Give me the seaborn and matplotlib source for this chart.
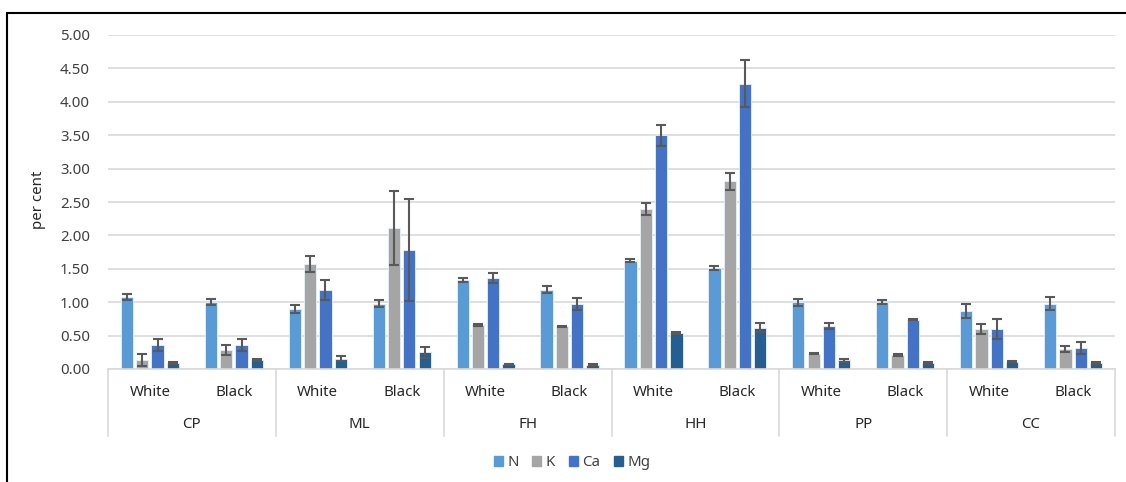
import numpy as np
import pandas as pd
import matplotlib
matplotlib.use("Agg")
import matplotlib.pyplot as plt
from matplotlib.lines import Line2D
from matplotlib.transforms import blended_transform_factory
import seaborn as sns

# ---- data ----
sites = ["CP", "ML", "FH", "HH", "PP", "CC"]
colours_sub = ["White", "Black"]
nutrients = ["N", "K", "Ca", "Mg"]

N_vals  = [1.08, 1.00, 0.90, 0.98, 1.33, 1.19, 1.62, 1.51, 1.00, 1.00, 0.87, 0.98]
K_vals  = [0.14, 0.29, 1.57, 2.11, 0.66, 0.64, 2.39, 2.81, 0.23, 0.21, 0.60, 0.30]
Ca_vals = [0.36, 0.36, 1.18, 1.78, 1.36, 0.97, 3.50, 4.27, 0.65, 0.74, 0.60, 0.32]
Mg_vals = [0.09, 0.13, 0.155, 0.25, 0.07, 0.06, 0.54, 0.62, 0.13, 0.09, 0.11, 0.09]

N_err  = [0.05, 0.045, 0.055, 0.055, 0.03, 0.05, 0.025, 0.025, 0.055, 0.03, 0.10, 0.095]
K_err  = [0.09, 0.075, 0.12, 0.555, 0.01, 0.01, 0.09, 0.125, 0.01, 0.01, 0.08, 0.045]
Ca_err = [0.085, 0.085, 0.15, 0.76, 0.08, 0.09, 0.155, 0.355, 0.045, 0.01, 0.15, 0.09]
Mg_err = [0.01, 0.015, 0.04, 0.085, 0.01, 0.01, 0.02, 0.065, 0.025, 0.01, 0.01, 0.01]

values = {"N": N_vals, "K": K_vals, "Ca": Ca_vals, "Mg": Mg_vals}
errors = {"N": N_err, "K": K_err, "Ca": Ca_err, "Mg": Mg_err}
palette = {"N": "#5B9BD5", "K": "#A5A5A5", "Ca": "#4472C4", "Mg": "#255E91"}

cats = [f"{s}-{c}" for s in sites for c in colours_sub]
rows = []
for nut in nutrients:
    for cat, v in zip(cats, values[nut]):
        rows.append({"cat": cat, "nutrient": nut, "value": v})
df = pd.DataFrame(rows)

# ---- figure ----
sns.set_theme(style="white")
plt.rcParams["font.family"] = ["Noto Sans", "DejaVu Sans"]

W, H = 1126, 482
fig = plt.figure(figsize=(W / 100, H / 100), dpi=100)
L, R, T, B = 108, 1115, 35, 369
ax = fig.add_axes([L / W, 1 - B / H, (R - L) / W, (B - T) / H])

sns.barplot(data=df, x="cat", y="value", hue="nutrient", order=cats,
            hue_order=nutrients, palette=palette, width=0.73, gap=0.2,
            errorbar=None, ax=ax, edgecolor="#EAF1FA", linewidth=0.6,
            saturation=1)

for cont, nut in zip(ax.containers, nutrients):
    xs = [p.get_x() + p.get_width() / 2 for p in cont]
    hs = [p.get_height() for p in cont]
    ax.errorbar(xs, hs, yerr=errors[nut], fmt="none", ecolor="#595959",
                elinewidth=1.5, capsize=3.3, capthick=1.5, zorder=5)

ax.set_ylim(0, 5)
ax.set_xlim(-0.5, len(cats) - 0.5)
ax.set_yticks(np.arange(0, 5.01, 0.5))
ax.set_yticklabels([f"{v:.2f}" for v in np.arange(0, 5.01, 0.5)],
                   fontsize=10.8, color="#404040")
ax.tick_params(axis="y", length=0, pad=13)
ax.tick_params(axis="x", length=0)
ax.set_xticks([])
ax.set_xlabel("")
ax.set_ylabel("")
ax.yaxis.grid(True, color="#D9D9D9", linewidth=1.2)
ax.set_axisbelow(True)
for s in ["top", "right", "left"]:
    ax.spines[s].set_visible(False)
ax.spines["bottom"].set_color("#D9D9D9")
ax.spines["bottom"].set_linewidth(1.2)
ax.legend_.remove()

# category table under the axis
tr = blended_transform_factory(ax.transData, ax.transAxes)
depth = (436 - B) / (B - T)
for i in range(len(sites) + 1):
    xb = -0.5 + 2 * i
    ax.plot([xb, xb], [0, -depth], transform=tr, color="#D9D9D9",
            lw=1.2, clip_on=False)
y_sub = -(392 - B) / (B - T)
y_site = -(425 - B) / (B - T)
for i, cat in enumerate(cats):
    ax.text(i, y_sub, cat.split("-")[1], transform=tr, ha="center",
            va="center", fontsize=10.8, color="#262626")
for j, s in enumerate(sites):
    ax.text(2 * j + 0.5, y_site, s, transform=tr, ha="center",
            va="center", fontsize=10.8, color="#262626")

fig.text(38 / W, 1 - 200 / H, "per cent", rotation=90, ha="center",
         va="center", fontsize=10.8, fontweight="bold", color="#262626")

handles = [plt.Rectangle((0, 0), 1, 1, color=palette[n]) for n in nutrients]
fig.legend(handles, nutrients, loc="center", bbox_to_anchor=(572 / W, 1 - 463 / H),
           ncol=4, frameon=False, fontsize=10.8, handlelength=0.6,
           handleheight=0.6, handletextpad=0.3, columnspacing=0.9,
           labelcolor="#404040")

# outer frame (top and left edges visible)
fig.add_artist(Line2D([7 / W, 1], [1 - 13 / H, 1 - 13 / H],
                      transform=fig.transFigure, color="black", lw=1.5))
fig.add_artist(Line2D([7 / W, 7 / W], [0, 1 - 13 / H],
                      transform=fig.transFigure, color="black", lw=1.5))

fig.savefig("out.png", dpi=100)
